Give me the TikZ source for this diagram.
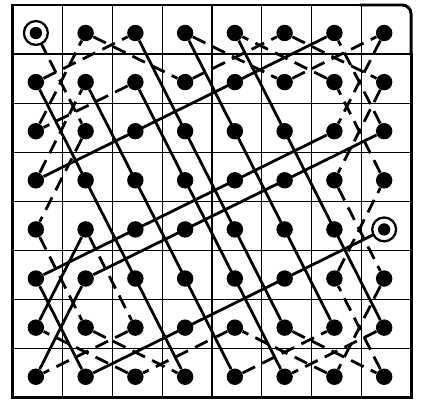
\documentclass[tikz,border=0pt]{standalone}
\usepackage{tikz}
\usetikzlibrary{positioning}

\begin{document}
\begin{tikzpicture}[x=1cm, y=-0.987cm,
  dot/.style={circle, fill=black, inner sep=0pt, minimum size=0.33cm},
  ring/.style={circle, draw=black, line width=1.3pt, fill=white,
               inner sep=0pt, minimum size=0.48cm},
  run/.style={line width=1.6pt},
  hop/.style={line width=1.6pt, dash pattern=on 8pt off 4.5pt},
  rim/.style={line width=1.7pt, line cap=rect}]
  \useasboundingbox (-0.261,-0.102) rectangle (8.261,8.081);
  % board
  \foreach \i in {1,...,7}{
    \draw[line width=0.8pt] (\i,0) -- (\i,8);
    \draw[line width=0.8pt] (0,\i) -- (8,\i);}
  \draw[rim] (8,1) -- (8,8) -- (0,8) -- (0,0) -- (7,0);
  \draw[rim, rounded corners=5pt] (7,0) -- (8,0) -- (8,1);
  % one dot per square, p<column><row>
  \foreach \c in {1,...,8}
    \foreach \r in {1,...,8}
      \node[dot] (p\c\r) at (\c-0.54,\r-0.43) {};
  % straight runs
  \foreach \a/\b in {48/12, 31/67, 51/87, 68/32, 26/83, 71/14, 22/58,
                     77/41, 73/16, 28/85, 17/25, 18/26, 16/28}
    \draw[run] (p\a) -- (p\b);
  % single moves
  \foreach \a/\b in {11/23, 23/15, 15/27, 27/48, 12/31, 67/88, 88/76,
                     76/84, 84/72, 72/51, 87/68, 32/13, 13/21, 21/42,
                     42/61, 61/82, 82/74, 74/86, 86/78, 78/57, 57/38,
                     38/17, 25/37, 37/18, 83/71, 14/22, 58/77, 41/62,
                     62/81, 81/73}
    \draw[hop] (p\a) -- (p\b);
  % first and last square
  \foreach \n in {p11, p85}{
    \node[ring] at (\n) {};
    \fill (\n) circle (0.125);}
\end{tikzpicture}
\end{document}
